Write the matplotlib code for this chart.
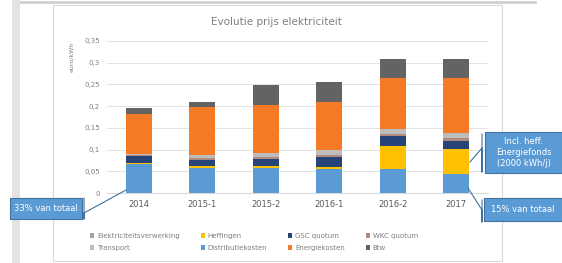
import matplotlib
matplotlib.use('Agg')
import matplotlib.pyplot as plt
from matplotlib.patches import Rectangle
from matplotlib.lines import Line2D

periods = ['2014', '2015-1', '2015-2', '2016-1', '2016-2', '2017']

# euro/kWh, stacked bottom to top
distributie = [0.067, 0.058, 0.058, 0.055, 0.055, 0.044]
heffingen = [0.003, 0.004, 0.004, 0.004, 0.053, 0.058]
gsc = [0.016, 0.014, 0.016, 0.023, 0.023, 0.018]
wkc = [0.001, 0.004, 0.004, 0.006, 0.005, 0.006]
transport = [0.002, 0.007, 0.010, 0.012, 0.011, 0.012]
verwerking = [0, 0, 0, 0, 0, 0]
energie = [0.094, 0.110, 0.110, 0.110, 0.118, 0.127]
btw = [0.012, 0.012, 0.046, 0.046, 0.044, 0.044]

series = [
    ('Distributiekosten', distributie, '#5B9BD5'),
    ('Heffingen', heffingen, '#FFC000'),
    ('GSC quotum', gsc, '#264478'),
    ('WKC quotum', wkc, '#B08A7E'),
    ('Transport', transport, '#BDBDBD'),
    ('Elektriciteitsverwerking', verwerking, '#A5A5A5'),
    ('Energiekosten', energie, '#F47A26'),
    ('Btw', btw, '#636363'),
]

fig = plt.figure(figsize=(5.62, 2.63), dpi=100)
W, H = 562, 263

def fx(px):
    return px / W

def fy(py):
    return 1 - py / H

# page decorations (behind the axes)
fig.patches.append(Rectangle((fx(12), 0), fx(8), 1, transform=fig.transFigure,
                             facecolor='#E3E3E3', edgecolor='none', zorder=-5))
fig.add_artist(Line2D([fx(20), fx(535)], [fy(1.5), fy(1.5)], color='#D0D0D0', lw=2,
                      zorder=-5))
fig.patches.append(Rectangle((fx(53), fy(261)), fx(502 - 53), 256 / H,
                             transform=fig.transFigure, facecolor='white',
                             edgecolor='#D9D9D9', lw=0.8, zorder=-5))

ax = fig.add_axes([fx(107), fy(193), fx(488 - 107), (193 - 41) / H])
ax.set_facecolor('none')

x = list(range(len(periods)))
bottom = [0.0] * len(periods)
handles = {}
for name, vals, col in series:
    b = ax.bar(x, vals, 0.41, bottom=bottom, color=col, label=name, zorder=3)
    handles[name] = b
    bottom = [bo + v for bo, v in zip(bottom, vals)]

ax.set_xlim(-0.5, 5.5)
ax.set_ylim(0, 0.35)
ticks = [0, 0.05, 0.1, 0.15, 0.2, 0.25, 0.3, 0.35]
ax.set_yticks(ticks)
ax.set_yticklabels(['0'] + [('%g' % t).replace('.', ',') for t in ticks[1:]],
                   fontsize=5, color='#7F7F7F')
ax.set_xticks(x)
ax.set_xticklabels(periods, fontsize=6, color='#595959')
ax.tick_params(length=0, pad=5)
ax.grid(axis='y', color='#E3E3E3', lw=0.7, zorder=0)
for s in ['top', 'right', 'left']:
    ax.spines[s].set_visible(False)
ax.spines['bottom'].set_color('#D9D9D9')

fig.text(fx(276), fy(22), 'Evolutie prijs elektriciteit', ha='center', va='center',
         fontsize=7.5, color='#7F7F7F')
fig.text(fx(72), fy(57), 'euro/kWh', rotation=90, ha='center', va='center',
         fontsize=4.5, color='#7F7F7F')

order = ['Elektriciteitsverwerking', 'Transport', 'Heffingen', 'Distributiekosten',
         'GSC quotum', 'Energiekosten', 'WKC quotum', 'Btw']
fig.legend([handles[n] for n in order], order, ncol=4, loc='center',
           bbox_to_anchor=(fx(254), fy(242)), frameon=False, fontsize=5,
           labelcolor='#7F7F7F', handlelength=0.6, handleheight=0.6,
           handletextpad=0.4, columnspacing=3.0, labelspacing=0.9)

# callouts
def callout(x0, y0, x1, y1, text, line_pts):
    fig.patches.append(Rectangle((fx(x0), fy(y1)), fx(x1 - x0), (y1 - y0) / H,
                                 transform=fig.transFigure, facecolor='#5B9BD5',
                                 edgecolor='#41719C', lw=0.8, zorder=5))
    fig.text(fx((x0 + x1) / 2), fy((y0 + y1) / 2), text, ha='center', va='center',
             fontsize=6, color='white', linespacing=1.3, zorder=6)
    xs = [fx(p[0]) for p in line_pts]
    ys = [fy(p[1]) for p in line_pts]
    fig.add_artist(Line2D(xs, ys, color='#41719C', lw=0.8, zorder=5))

callout(10, 198, 82, 219, '33% van totaal',
        [(84, 198), (84, 219), (84, 213), (126, 190)])
callout(485, 132, 562, 173, 'Incl. heff.\nEnergiefonds\n(2000 kWh/j)',
        [(482, 134), (482, 172), (482, 148), (470, 162)])
callout(484, 198, 562, 221, '15% van totaal',
        [(482, 200), (482, 222), (482, 210), (468, 188)])

fig.savefig('out.png', dpi=100)
